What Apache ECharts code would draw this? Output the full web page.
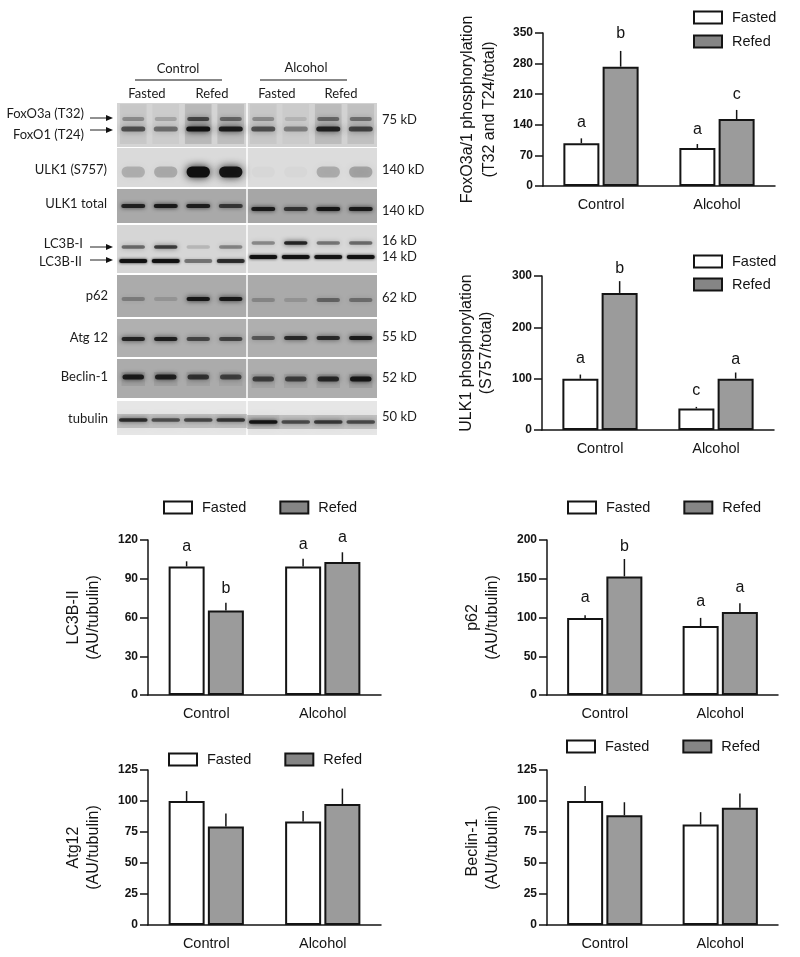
<!DOCTYPE html>
<html><head><meta charset="utf-8">
<style>html,body{margin:0;padding:0;background:#fff}#c{width:800px;height:957px}</style>
<script src="https://cdn.jsdelivr.net/npm/echarts@6/dist/echarts.min.js"></script>
</head><body><div id="c"></div>
<script>
const categories = ['Control', 'Alcohol'];
const seriesNames = ['Fasted', 'Refed'];

// bar means, top of the error whisker, letter heights and letters (axis units)
const foxoFasted = [98, 87],   foxoRefed = [273, 153];
const foxoFastedTop = [109, 96], foxoRefedTop = [309, 174];
const foxoFastedLetterAt = [144, 128], foxoRefedLetterAt = [348, 208];
const foxoFastedLetters = ['a', 'a'], foxoRefedLetters = ['b', 'c'];

const ulkFasted = [100, 42],   ulkRefed = [267, 100];
const ulkFastedTop = [108, 45], ulkRefedTop = [290, 112];
const ulkFastedLetterAt = [139, 76], ulkRefedLetterAt = [314, 138];
const ulkFastedLetters = ['a', 'c'], ulkRefedLetters = ['b', 'a'];

const lc3Fasted = [99.5, 99.5],  lc3Refed = [65.5, 103];
const lc3FastedTop = [103.5, 105.5], lc3RefedTop = [71.5, 110.5];
const lc3FastedLetterAt = [115, 116.5], lc3RefedLetterAt = [82.5, 121.5];
const lc3FastedLetters = ['a', 'a'], lc3RefedLetters = ['b', 'a'];

const p62Fasted = [99.5, 89],  p62Refed = [153, 107];
const p62FastedTop = [103, 99.5], p62RefedTop = [175.5, 118.5];
const p62FastedLetterAt = [126, 120], p62RefedLetterAt = [191, 138];
const p62FastedLetters = ['a', 'a'], p62RefedLetters = ['b', 'a'];

const atgFasted = [100, 83.5],  atgRefed = [79.5, 97.5];
const atgFastedTop = [108, 92], atgRefedTop = [90, 110];

const becFasted = [100, 81],  becRefed = [88.5, 94.5];
const becFastedTop = [112, 91], becRefedTop = [99, 106];

// blot: relative band intensity per lane (4 control, 4 alcohol)
const bandFoxSmear  = [.06, .04, .12, .10, .05, .03, .10, .08];
const bandFoxUpper  = [.30, .20, .62, .46, .30, .12, .45, .42];
const bandFoxLower  = [.60, .46, .98, .90, .60, .38, .86, .66];
const bandUlkPhos   = [.20, .22, 1.0, .95, .02, .02, .22, .26];
const bandUlkTotal  = [.82, .88, .85, .68, .88, .68, .92, .88];
const bandLcUpper   = [.50, .72, .15, .38, .36, .85, .45, .50];
const bandLcLower   = [.95, .95, .42, .75, .95, .95, .92, .95];
const bandP62       = [.28, .14, .92, .90, .22, .14, .42, .36];
const bandAtg       = [.82, .85, .60, .62, .50, .78, .78, .88];
const bandBeclin    = [.88, .85, .70, .62, .62, .62, .78, .92];
const bandBeclinHalo= [.07, .07, .06, .05, .06, .06, .07, .08];
const bandTubulin   = [.78, .58, .62, .72, .95, .60, .70, .60];
const bandTubulinHalo = [.18, .17, .17, .18, .20, .17, .18, .17];

const blotLabels = [
  ['FoxO3a (T32)', 84, 114], ['FoxO1 (T24)', 84, 135], ['ULK1 (S757)', 107, 170], ['ULK1 total', 107, 204],
  ['LC3B-I', 83, 244], ['LC3B-II', 82, 262], ['p62', 108, 296], ['Atg 12', 108, 338], ['Beclin-1', 108, 377], ['tubulin', 108, 419]
];
const sizeLabels = [
  ['75 kD', 120], ['140 kD', 170], ['140 kD', 211], ['16 kD', 241], ['14 kD', 257],
  ['62 kD', 298], ['55 kD', 337], ['52 kD', 378], ['50 kD', 417]
];
const groupLabels = [['Control', 178, 69], ['Alcohol', 306, 68]];
const laneLabels = [['Fasted', 147, 94], ['Refed', 212, 94], ['Fasted', 277, 94], ['Refed', 341, 94]];

// ---------- panels ----------
const blotPanels = [
  {top: 103, bottom: 147, colors: ['#d4d4d4', '#d2d2d2']},
  {top: 148, bottom: 187, colors: ['#dadada', '#dcdcdc']},
  {top: 189, bottom: 223, colors: ['#a9a9a9', '#a6a6a6']},
  {top: 225, bottom: 273, colors: ['#d6d6d6', '#d8d8d8']},
  {top: 275, bottom: 317, colors: ['#ababab', '#aaaaaa']},
  {top: 319, bottom: 357, colors: ['#b0b0b0', '#afafaf']},
  {top: 359, bottom: 398, colors: ['#ababab', '#adadad']},
  {top: 401, bottom: 435, colors: ['#e6e6e6', '#e6e6e6']}
];
const blotBands = [
  {v: bandFoxSmear,  y: [124, 124], h: 40, w: .82, blur: 2, flat: true},
  {v: bandFoxUpper,  y: [119, 119], h: 4,  w: .68, blur: 5},
  {v: bandFoxLower,  y: [129, 129], h: 5,  w: .74, blur: 6},
  {v: bandUlkPhos,   y: [172, 172], h: 11, w: .72, blur: 9},
  {v: bandUlkTotal,  y: [206, 209], h: 4,  w: .74, blur: 4},
  {v: bandLcUpper,   y: [247, 243], h: 3.5,w: .72, blur: 5},
  {v: bandLcLower,   y: [261, 257], h: 4,  w: .86, blur: 3},
  {v: bandP62,       y: [299, 300], h: 4,  w: .72, blur: 5},
  {v: bandAtg,       y: [339, 338], h: 4,  w: .72, blur: 5},
  {v: bandBeclinHalo,y: [379, 381], h: 14, w: .72, blur: 5, flat: true},
  {v: bandBeclin,    y: [377, 379], h: 5,  w: .66, blur: 5},
  {v: bandTubulinHalo, y: [421, 422], h: 14, w: 1.0, blur: 10, flat: true},
  {v: bandTubulin,   y: [420, 422], h: 3.5,w: .88, blur: 4}
];

const LANE_FONT = 'Lato';
const AXIS_FONT = '"Liberation Sans"';
const INK = '#141414';

// ---------- chart layout ----------
const charts = [
  {fasted: foxoFasted, refed: foxoRefed, fTop: foxoFastedTop, rTop: foxoRefedTop, fAt: foxoFastedLetterAt, rAt: foxoRefedLetterAt,
   fL: foxoFastedLetters, rL: foxoRefedLetters, max: 350, step: 70, name: 'FoxO3a/1 phosphorylation\n(T32 and T24/total)', lh: 22,
   left: 543, top: 33, width: 232, height: 153, gap: 42,
   legend: {left: 693, top: 10, orient: 'vertical', itemGap: 9}},
  {fasted: ulkFasted, refed: ulkRefed, fTop: ulkFastedTop, rTop: ulkRefedTop, fAt: ulkFastedLetterAt, rAt: ulkRefedLetterAt,
   fL: ulkFastedLetters, rL: ulkRefedLetters, max: 300, step: 100, name: 'ULK1 phosphorylation\n(S757/total)', lh: 20,
   left: 542, top: 276, width: 232, height: 154, gap: 45,
   legend: {left: 693, top: 254, orient: 'vertical', itemGap: 8}},
  {fasted: lc3Fasted, refed: lc3Refed, fTop: lc3FastedTop, rTop: lc3RefedTop, fAt: lc3FastedLetterAt, rAt: lc3RefedLetterAt,
   fL: lc3FastedLetters, rL: lc3RefedLetters, max: 120, step: 30, name: 'LC3B-II\n(AU/tubulin)', lh: 20,
   left: 148, top: 540, width: 233, height: 155, gap: 44,
   legend: {left: 163, top: 500, orient: 'horizontal', itemGap: 33}},
  {fasted: p62Fasted, refed: p62Refed, fTop: p62FastedTop, rTop: p62RefedTop, fAt: p62FastedLetterAt, rAt: p62RefedLetterAt,
   fL: p62FastedLetters, rL: p62RefedLetters, max: 200, step: 50, name: 'p62\n(AU/tubulin)', lh: 20,
   left: 547, top: 540, width: 231, height: 155, gap: 44,
   legend: {left: 567, top: 500, orient: 'horizontal', itemGap: 33}},
  {fasted: atgFasted, refed: atgRefed, fTop: atgFastedTop, rTop: atgRefedTop,
   max: 125, step: 25, name: 'Atg12\n(AU/tubulin)', lh: 20,
   left: 148, top: 770, width: 233, height: 155, gap: 44,
   legend: {left: 168, top: 752, orient: 'horizontal', itemGap: 33}},
  {fasted: becFasted, refed: becRefed, fTop: becFastedTop, rTop: becRefedTop,
   max: 125, step: 25, name: 'Beclin-1\n(AU/tubulin)', lh: 20,
   left: 547, top: 770, width: 231, height: 155, gap: 44,
   legend: {left: 566, top: 739, orient: 'horizontal', itemGap: 33}}
];

const BAR_W = 36, BAR_STEP = 39.3;
const grid = [], xAxis = [], yAxis = [], series = [], legend = [];

charts.forEach((c, i) => {
  grid.push({left: c.left, top: c.top, width: c.width, height: c.height, containLabel: false});
  xAxis.push({
    type: 'category', gridIndex: i, data: categories,
    axisTick: {show: false},
    axisLine: {lineStyle: {color: INK, width: 1.5}},
    axisLabel: {color: INK, fontFamily: AXIS_FONT, fontSize: 14.5, margin: 11}
  });
  yAxis.push({
    type: 'value', gridIndex: i, min: 0, max: c.max, interval: c.step,
    name: c.name, nameLocation: 'middle', nameRotate: 90, nameGap: c.gap,
    nameTextStyle: {color: INK, fontFamily: AXIS_FONT, fontSize: 16, lineHeight: c.lh},
    splitLine: {show: false},
    axisLine: {show: true, lineStyle: {color: INK, width: 1.5}},
    axisTick: {show: true, length: 8, lineStyle: {color: INK, width: 1.5}},
    axisLabel: {color: INK, fontFamily: AXIS_FONT, fontWeight: 'bold', fontSize: 12, margin: 10}
  });
  [[seriesNames[0], c.fasted, '#ffffff'], [seriesNames[1], c.refed, '#9b9b9b']].forEach(([n, d, col]) => {
    series.push({
      type: 'bar', name: n, xAxisIndex: i, yAxisIndex: i, data: d, barWidth: BAR_W, barGap: '9%',
      itemStyle: {color: col, borderColor: INK, borderWidth: 2}, silent: true
    });
  });
  [[c.fasted, c.fTop, c.fAt, c.fL, -1], [c.refed, c.rTop, c.rAt, c.rL, 1]].forEach(([vals, tops, ats, letters, side]) => {
    series.push({
      type: 'custom', name: 'error' + i + side, xAxisIndex: i, yAxisIndex: i, silent: true, z: 5, clip: false,
      data: categories.map((_, k) => [k, vals[k], tops[k], ats ? ats[k] : tops[k]]),
      encode: {x: 0, y: 1},
      renderItem(params, api) {
        const k = api.value(0);
        const base = api.coord([k, api.value(1)]);
        const top = api.coord([k, api.value(2)]);
        const x = base[0] + side * BAR_STEP / 2;
        const kids = [{type: 'line', shape: {x1: x, y1: base[1], x2: x, y2: top[1]}, style: {stroke: INK, lineWidth: 1.5}}];
        if (letters) {
          const at = api.coord([k, api.value(3)]);
          kids.push({type: 'text', style: {x, y: at[1], text: letters[k], fill: INK, font: '16px ' + AXIS_FONT, align: 'center', verticalAlign: 'middle'}});
        }
        return {type: 'group', children: kids};
      }
    });
  });
  legend.push(Object.assign({
    data: [{name: 'Fasted'}, {name: 'Refed', itemStyle: {color: '#858585'}}],
    icon: 'rect', itemWidth: 28, itemHeight: 12, selectedMode: false, padding: 0,
    textStyle: {color: INK, fontFamily: AXIS_FONT, fontSize: 14.5, padding: [0, 0, 0, 5]}
  }, c.legend));
});

// ---------- blot, in its own hidden cartesian system: x = lanes, y = vertical position ----------
const bi = charts.length;
grid.push({left: 117, top: 103, width: 260, height: 332});
xAxis.push({type: 'value', gridIndex: bi, min: 0, max: 8, show: false});
yAxis.push({type: 'value', gridIndex: bi, min: 103, max: 435, inverse: true, show: false});
series.push({
  type: 'custom', name: 'blot panels', xAxisIndex: bi, yAxisIndex: bi, silent: true, z: 1, clip: false,
  data: blotPanels.flatMap((p, r) => [[0, 4, p.top, p.bottom, r, 0], [4, 8, p.top, p.bottom, r, 1]]),
  encode: {x: [0, 1], y: [2, 3]},
  renderItem(params, api) {
    const a = api.coord([api.value(0), api.value(2)]);
    const b = api.coord([api.value(1), api.value(3)]);
    const side = api.value(5);
    const inset = side === 0 ? [0, -0.75] : [0.75, 0];
    return {type: 'rect', shape: {x: a[0] + inset[0], y: a[1], width: b[0] - a[0] - inset[0] + inset[1], height: b[1] - a[1]},
      style: {fill: blotPanels[api.value(4)].colors[side]}};
  }
});
series.push({
  type: 'custom', name: 'blot bands', xAxisIndex: bi, yAxisIndex: bi, silent: true, z: 2, clip: true,
  data: blotBands.flatMap((b, r) => b.v.map((v, l) => [l + .5, b.y[l < 4 ? 0 : 1], v, r])),
  encode: {x: 0, y: 1},
  renderItem(params, api) {
    const b = blotBands[api.value(3)];
    const c = api.coord([api.value(0), api.value(1)]);
    const laneW = api.size([1, 0])[0];
    const w = laneW * b.w, h = b.h, v = api.value(2);
    const col = 'rgba(15,15,15,' + v.toFixed(2) + ')';
    return {type: 'rect', shape: {x: c[0] - w / 2, y: c[1] - h / 2, width: w, height: h, r: b.flat ? 0 : h / 2},
      style: {fill: col, shadowBlur: b.blur, shadowColor: col}};
  }
});

// ---------- blot annotations ----------
const graphic = [];
function txt(text, x, y, align, size) {
  graphic.push({type: 'text', silent: true, style: {text, x, y, align, verticalAlign: 'middle', fill: '#1c1c1c', font: size + 'px ' + LANE_FONT}});
}
blotLabels.forEach(l => txt(l[0], l[1], l[2], 'right', 13));
sizeLabels.forEach(l => txt(l[0], 382, l[1], 'left', 13));
groupLabels.forEach(l => txt(l[0], l[1], l[2], 'center', 13));
laneLabels.forEach(l => txt(l[0], l[1], l[2], 'center', 13));
[[135, 222], [260, 347]].forEach(([a, b]) => graphic.push({type: 'line', silent: true, shape: {x1: a, y1: 80, x2: b, y2: 80}, style: {stroke: '#111', lineWidth: 1.2}}));
[[90, 118], [90, 130], [90, 247], [90, 260]].forEach(([x, y]) => {
  graphic.push({type: 'line', silent: true, shape: {x1: x, y1: y, x2: x + 18, y2: y}, style: {stroke: '#222', lineWidth: 1}});
  graphic.push({type: 'polygon', silent: true, shape: {points: [[x + 16, y - 3], [x + 23, y], [x + 16, y + 3]]}, style: {fill: '#111'}});
});

const chart = echarts.init(document.getElementById('c'), null, {renderer: 'canvas'});
chart.setOption({animation: false, backgroundColor: '#fff', grid, xAxis, yAxis, series, legend, graphic, tooltip: {show: false}});
</script></body></html>
